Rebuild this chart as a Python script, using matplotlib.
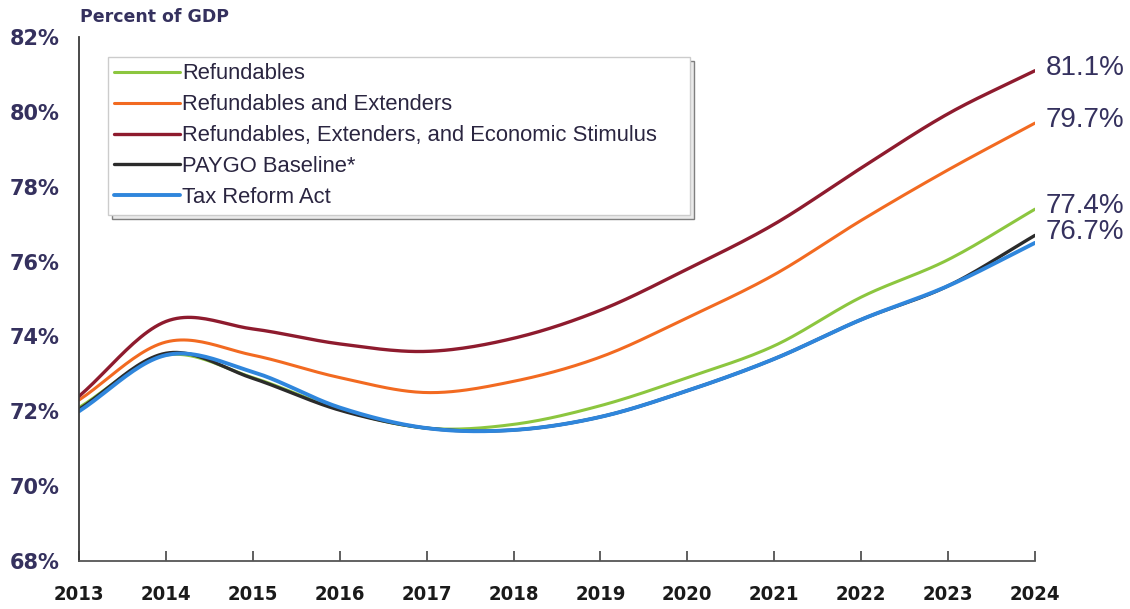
#!/usr/bin/env python3
"""
Debt-to-GDP projections under the different tax scenarios, 2013-2024.
"""

import numpy as np
import matplotlib
matplotlib.use("Agg")
import matplotlib.pyplot as plt

# Data (percent of GDP, one value per year)
years = list(range(2013, 2025))
refundables = [72.1, 73.5, 72.9, 72.05, 71.55, 71.65, 72.15, 72.9, 73.75, 75.05, 76.05, 77.4]
refundables_extenders = [72.3, 73.85, 73.5, 72.9, 72.5, 72.8, 73.45, 74.5, 75.65, 77.1, 78.45, 79.7]
refundables_ext_stimulus = [72.4, 74.4, 74.2, 73.8, 73.6, 73.95, 74.7, 75.8, 77.0, 78.5, 79.95, 81.1]
paygo_baseline = [72.05, 73.55, 72.88, 72.03, 71.55, 71.5, 71.85, 72.55, 73.4, 74.45, 75.35, 76.7]
tax_reform_act = [72.0, 73.5, 73.05, 72.1, 71.55, 71.5, 71.85, 72.55, 73.4, 74.45, 75.35, 76.5]

end_labels = ["81.1%", "79.7%", "77.4%", "76.7%"]
end_values = [81.1, 79.7, 77.4, 76.7]

y_ticks = [68, 70, 72, 74, 76, 78, 80, 82]

NAVY = "#35315e"


def smooth(x, y, n=24):
    """Catmull-Rom curve through the points (like Excel's smoothed line)"""
    x = np.asarray(x, float)
    y = np.asarray(y, float)
    px = np.concatenate([[2 * x[0] - x[1]], x, [2 * x[-1] - x[-2]]])
    py = np.concatenate([[2 * y[0] - y[1]], y, [2 * y[-1] - y[-2]]])
    t = np.linspace(0, 1, n, endpoint=False)
    xs, ys = [], []
    for i in range(1, len(px) - 2):
        for p, out in ((px, xs), (py, ys)):
            p0, p1, p2, p3 = p[i - 1], p[i], p[i + 1], p[i + 2]
            out.append(0.5 * (2 * p1 + (-p0 + p2) * t
                              + (2 * p0 - 5 * p1 + 4 * p2 - p3) * t ** 2
                              + (-p0 + 3 * p1 - 3 * p2 + p3) * t ** 3))
    xs.append([x[-1]])
    ys.append([y[-1]])
    return np.concatenate(xs), np.concatenate(ys)


fig = plt.figure(figsize=(11.3, 6.09), dpi=100)
ax = fig.add_axes([79 / 1130, 1 - 561 / 609, 956 / 1130, 524 / 609])

series = [
    ("Refundables", refundables, "#8cc63f", 2.2),
    ("Refundables and Extenders", refundables_extenders, "#f26a21", 2.2),
    ("Refundables, Extenders, and Economic Stimulus", refundables_ext_stimulus, "#8e1b2e", 2.4),
    ("PAYGO Baseline*", paygo_baseline, "#2b2b2b", 2.4),
    ("Tax Reform Act", tax_reform_act, "#2f86dc", 2.8),
]
for label, vals, color, lw in series:
    sx, sy = smooth(years, vals)
    ax.plot(sx, sy, color=color, lw=lw, label=label, solid_capstyle="round")

ax.set_xlim(2013, 2024)
ax.set_ylim(68, 82)
ax.set_yticks(y_ticks)
ax.set_yticklabels([f"{v}%" for v in y_ticks], fontsize=15, fontweight="bold",
                   color=NAVY, family="DejaVu Sans")
ax.set_xticks(years)
ax.set_xticklabels([str(y) for y in years], fontsize=14.5, fontweight="bold",
                   color="#1a1a1a", family="DejaVu Sans", fontstretch="condensed")
ax.tick_params(axis="y", length=0, pad=14)
ax.tick_params(axis="x", direction="in", length=7, width=1.2, color="#444444", pad=17)

for side in ("top", "right"):
    ax.spines[side].set_visible(False)
ax.spines["left"].set_color("#3a3a3a")
ax.spines["left"].set_linewidth(1.3)
ax.spines["bottom"].set_color("#555555")
ax.spines["bottom"].set_linewidth(1.3)

for txt, v in zip(end_labels, end_values):
    ax.text(2024.12, v + 0.08, txt, fontsize=20, color=NAVY, va="center", ha="left",
            family="Liberation Sans", clip_on=False)

fig.text(80 / 1130, 1 - 17 / 609, "Percent of GDP", fontsize=12.5, fontweight="bold",
         color=NAVY, va="center", ha="left", family="DejaVu Sans")

# legend box stretched to the reference width (x 108..690 px)
leg = ax.legend(loc="upper left", bbox_to_anchor=(0.03, 0.0, 0.609, 0.962),
                mode="expand", borderaxespad=0,
                frameon=True, fancybox=False, handlelength=3.0, handletextpad=0.1,
                labelspacing=0.45, borderpad=0.3,
                prop={"family": "Liberation Sans", "size": 15.8},
                shadow={"ox": 3, "oy": -3, "facecolor": "#e2e2e2", "alpha": 0.7})
leg.get_frame().set_edgecolor("#cccccc")
leg.get_frame().set_linewidth(1.0)
for t in leg.get_texts():
    t.set_color("#2a2540")

fig.savefig("out.png", dpi=100)
